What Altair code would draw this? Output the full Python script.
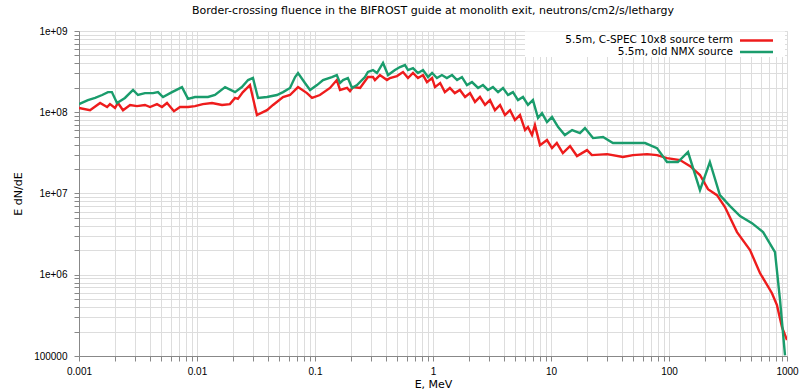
import altair as alt
import pandas as pd

# ---- data ----
red_label = "5.5m, C-SPEC 10x8 source term"
green_label = "5.5m, old NMX source"

red_E = [0.001, 1.24e-3, 1.51e-3, 1.73e-3, 1.83e-3, 2.02e-3, 2.14e-3, 2.36e-3, 2.71e-3, 3.10e-3,
         3.62e-3, 4.00e-3, 4.58e-3, 5.05e-3, 5.57e-3, 6.38e-3, 7.18e-3, 8.39e-3, 9.62e-3, 1.12e-2,
         1.34e-2, 1.63e-2, 1.90e-2, 2.10e-2, 2.22e-2, 2.45e-2, 2.81e-2, 3.22e-2, 3.92e-2, 4.41e-2,
         5.36e-2, 6.14e-2, 7.18e-2, 8.55e-2, 9.44e-2, 0.110, 0.134, 0.153, 0.163, 0.187,
         0.198, 0.210, 0.241, 0.281, 0.310, 0.322, 0.355, 0.407, 0.432, 0.495,
         0.557, 0.614, 0.677, 0.746, 0.823, 0.889, 0.982, 1.04, 1.15, 1.26,
         1.39, 1.53, 1.69, 1.87, 2.06, 2.27, 2.50, 2.76, 3.04, 3.35,
         3.70, 4.07, 4.50, 4.95, 5.46, 6.03, 6.38, 6.90, 7.31, 8.07,
         9.25, 10.2, 11.2, 12.6, 14.5, 16.6, 20.2, 22.2, 29.9, 40.7,
         49.5, 65.2, 79.1, 96.2, 124, 151, 183, 214, 255, 298,
         377, 486, 590, 746, 822, 907, 1000]
red_flux = [1.13e8, 1.06e8, 1.30e8, 1.16e8, 1.26e8, 1.13e8, 1.30e8, 1.06e8, 1.23e8, 1.19e8,
            1.23e8, 1.16e8, 1.26e8, 1.16e8, 1.30e8, 1.03e8, 1.16e8, 1.16e8, 1.19e8, 1.26e8,
            1.30e8, 1.23e8, 1.26e8, 1.50e8, 1.46e8, 1.77e8, 2.16e8, 9.24e7, 1.06e8, 1.23e8,
            1.54e8, 1.63e8, 2.04e8, 1.72e8, 1.50e8, 1.63e8, 1.99e8, 2.49e8, 1.88e8, 1.99e8,
            1.82e8, 2.04e8, 1.99e8, 2.71e8, 2.71e8, 2.49e8, 2.87e8, 2.49e8, 2.64e8, 2.79e8,
            3.13e8, 2.64e8, 3.04e8, 2.64e8, 2.87e8, 2.35e8, 2.64e8, 2.04e8, 2.29e8, 1.77e8,
            1.99e8, 1.72e8, 1.88e8, 1.54e8, 1.72e8, 1.34e8, 1.54e8, 1.23e8, 1.41e8, 1.06e8,
            1.23e8, 9.24e7, 1.06e8, 8.02e7, 9.24e7, 6.04e7, 6.58e7, 5.24e7, 6.95e7, 3.94e7,
            4.55e7, 3.62e7, 4.18e7, 3.15e7, 3.84e7, 2.89e7, 3.42e7, 2.97e7, 3.05e7, 2.81e7,
            2.97e7, 3.05e7, 2.97e7, 2.73e7, 2.58e7, 2.17e7, 1.69e7, 1.13e7, 9.55e6, 6.81e6,
            3.35e6, 2.01e6, 1.05e6, 5.93e5, 4.23e5, 2.26e5, 1.57e5]

green_E = [0.001, 1.19e-3, 1.37e-3, 1.57e-3, 1.76e-3, 1.90e-3, 2.10e-3, 2.45e-3, 2.87e-3, 3.16e-3,
           3.62e-3, 4.24e-3, 4.67e-3, 5.15e-3, 6.14e-3, 7.46e-3, 8.39e-3, 9.62e-3, 1.24e-2, 1.42e-2,
           1.73e-2, 2.10e-2, 2.40e-2, 2.71e-2, 2.98e-2, 3.29e-2, 3.92e-2, 4.76e-2, 5.36e-2, 6.14e-2,
           6.78e-2, 7.18e-2, 8.22e-2, 9.08e-2, 0.104, 0.117, 0.139, 0.153, 0.163, 0.173,
           0.190, 0.206, 0.227, 0.265, 0.281, 0.310, 0.335, 0.377, 0.416, 0.476,
           0.525, 0.579, 0.614, 0.677, 0.746, 0.823, 0.908, 0.982, 1.08, 1.19,
           1.31, 1.45, 1.60, 1.76, 1.94, 2.14, 2.41, 2.65, 2.92, 3.22,
           3.56, 3.92, 4.32, 4.76, 5.25, 5.79, 6.38, 7.03, 7.76, 8.39,
           9.25, 10.2, 11.5, 13.1, 15.1, 17.6, 19.4, 22.7, 27.6, 33.5,
           49.5, 62.7, 79.1, 96.2, 119, 145, 183, 222, 270, 329,
           400, 505, 627, 791, 873, 962]
green_flux = [1.26e8, 1.41e8, 1.50e8, 1.63e8, 1.77e8, 1.77e8, 1.30e8, 1.50e8, 1.88e8, 1.63e8,
              1.72e8, 1.72e8, 1.77e8, 1.54e8, 1.77e8, 2.04e8, 1.46e8, 1.54e8, 1.54e8, 1.63e8,
              2.04e8, 1.77e8, 2.04e8, 2.49e8, 2.64e8, 1.50e8, 1.54e8, 1.63e8, 1.77e8, 1.99e8,
              2.71e8, 3.04e8, 2.29e8, 1.88e8, 2.16e8, 2.49e8, 2.71e8, 2.87e8, 2.29e8, 2.49e8,
              2.64e8, 1.99e8, 2.16e8, 2.71e8, 3.13e8, 3.31e8, 3.04e8, 4.04e8, 2.87e8, 3.31e8,
              3.60e8, 3.81e8, 3.31e8, 3.50e8, 3.04e8, 3.31e8, 2.71e8, 3.04e8, 2.64e8, 2.87e8,
              2.64e8, 2.87e8, 2.49e8, 2.71e8, 2.16e8, 2.35e8, 1.99e8, 2.16e8, 1.88e8, 2.04e8,
              1.77e8, 1.99e8, 1.63e8, 1.77e8, 1.41e8, 1.54e8, 1.23e8, 1.41e8, 8.49e7, 9.77e7,
              7.57e7, 8.73e7, 6.58e7, 5.24e7, 6.04e7, 5.55e7, 6.38e7, 4.81e7, 4.95e7, 4.18e7,
              4.18e7, 4.18e7, 3.62e7, 2.44e7, 2.44e7, 3.24e7, 1.10e7, 2.44e7, 9.55e6, 7.00e6,
              5.27e6, 4.32e6, 3.35e6, 1.90e6, 4.86e5, 1.02e5]

x_decades = ["0.001", "0.01", "0.1", "1", "10", "100", "1000"]
y_decades = ["100000", "1e+06", "1e+07", "1e+08", "1e+09"]

title_text = "Border-crossing fluence in the BIFROST guide at monolith exit, neutrons/cm2/s/lethargy"
colors = ["#ee1c1c", "#1a9c6c"]
FONT = "DejaVu Sans"

df = pd.concat([
    pd.DataFrame({"E": red_E, "flux": red_flux, "series": red_label, "idx": range(len(red_E))}),
    pd.DataFrame({"E": green_E, "flux": green_flux, "series": green_label, "idx": range(len(green_E))}),
], ignore_index=True)

x_vals = [float(f"{m}e{k}") for k in range(-3, 3) for m in range(1, 10)] + [1000.0]
y_vals = [float(f"{m}e{k}") for k in range(5, 9) for m in range(1, 10)] + [1e9]

is_decade = "abs(log(datum.value)/LN10 - round(log(datum.value)/LN10)) < 0.001"
x_label_expr = f"{is_decade} ? format(datum.value, '~g') : ''"
y_label_expr = (f"{is_decade} ? (datum.value < 5e5 ? '100000' : "
                "'1e+0' + round(log(datum.value)/LN10)) : ''")

W, H = 708, 325

lines = alt.Chart(df).mark_line(strokeWidth=2.4, clip=True).encode(
    x=alt.X("E:Q", scale=alt.Scale(type="log", domain=[0.001, 1000], nice=False),
            axis=alt.Axis(values=x_vals, labelExpr=x_label_expr, title="E, MeV",
                          titleX=W / 2, titleY=28, titleBaseline="middle",
                          titleFontWeight="normal", titleFont=FONT, titleFontSize=11,
                          labelPadding=5, labelOverlap=False, labelFlush=False)),
    y=alt.Y("flux:Q", scale=alt.Scale(type="log", domain=[1e5, 1e9], nice=False),
            axis=alt.Axis(values=y_vals, labelExpr=y_label_expr, title="E dN/dE",
                          titleX=-61, titleY=H / 2, titleAngle=-90, titleBaseline="middle",
                          titleAlign="center", titleFontWeight="normal", titleFont=FONT,
                          titleFontSize=11,
                          labelPadding=7, labelOverlap=False, labelFlush=False)),
    color=alt.Color("series:N", scale=alt.Scale(domain=[red_label, green_label], range=colors),
                    legend=None),
    order=alt.Order("idx:Q"),
)

one = pd.DataFrame({"k": [0]})
leg_box = alt.Chart(one).mark_rect(fill="white").encode(
    x=alt.value(446), x2=alt.value(706), y=alt.value(0.5), y2=alt.value(26))
leg_t1 = alt.Chart(one).mark_text(text=red_label, align="right", baseline="middle",
                                  font=FONT, fontSize=10.5, color="black").encode(
    x=alt.value(654), y=alt.value(8.5))
leg_t2 = alt.Chart(one).mark_text(text=green_label, align="right", baseline="middle",
                                  font=FONT, fontSize=10.5, color="black").encode(
    x=alt.value(654), y=alt.value(20.5))
leg_r1 = alt.Chart(one).mark_rule(color=colors[0], strokeWidth=2.4).encode(
    x=alt.value(661), x2=alt.value(694), y=alt.value(9.5))
leg_r2 = alt.Chart(one).mark_rule(color=colors[1], strokeWidth=2.4).encode(
    x=alt.value(661), x2=alt.value(694), y=alt.value(21))

chart = alt.layer(lines, leg_box, leg_t1, leg_t2, leg_r1, leg_r2).properties(
    width=W, height=H,
    title=alt.TitleParams(title_text, font=FONT, fontSize=11, fontWeight="normal",
                          color="black", anchor="middle", offset=10),
    autosize=alt.AutoSizeParams(type="none"),
    padding={"left": 79, "top": 31, "right": 13, "bottom": 34},
).configure_view(
    stroke="#666666", strokeWidth=1
).configure_axis(
    grid=True, gridColor="#c0c0c0", gridWidth=1, gridOpacity=1,
    domain=True, domainColor="black", domainWidth=1.5,
    ticks=False, tickSize=0,
    labelFont=FONT, labelFontSize=11, labelColor="black",
    titleFont=FONT, titleFontSize=11, titleFontWeight="normal", titleColor="black",
).configure(background="white")

chart.save("out.html", embed_options={"renderer": "svg", "actions": False})
